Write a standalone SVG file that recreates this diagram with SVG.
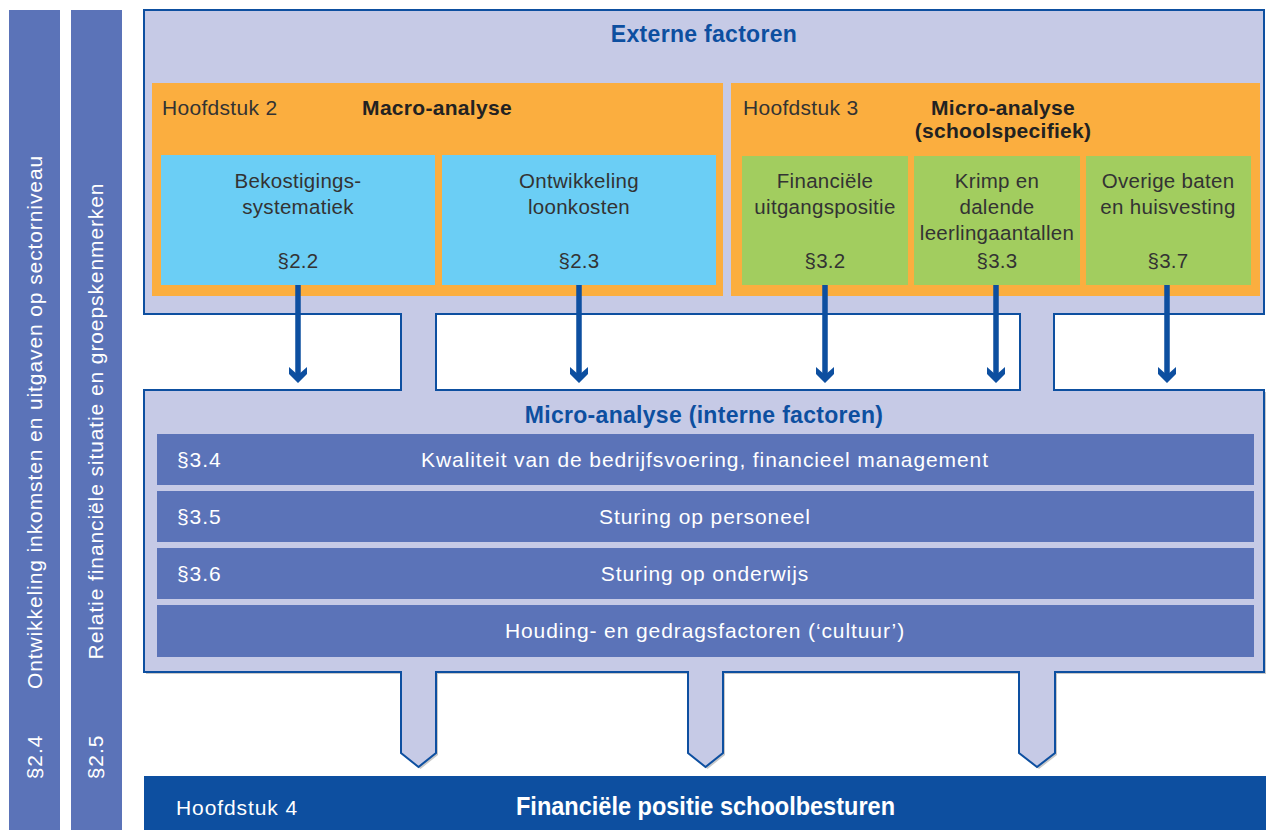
<svg xmlns="http://www.w3.org/2000/svg" width="1266" height="830" viewBox="0 0 1266 830">
<style>
text{font-family:"Liberation Sans",Arial,sans-serif}
.side{fill:#5b73b8}
.t{font-size:20.5px;letter-spacing:0.3px;fill:#333}
.h{font-size:21px;letter-spacing:0.3px;fill:#333}
.tb{font-size:21px;letter-spacing:0.3px;font-weight:bold;fill:#222}
.ti{font-size:23px;letter-spacing:0.3px;font-weight:bold;fill:#0d4fa0}
.w{font-size:21px;letter-spacing:0.9px;fill:#fff}
.c{text-anchor:middle}
.bar{fill:#5b73b8}
.org{fill:#fbae3f}
.lb{fill:#6bcef5}
.gr{fill:#a2cd5f}
.arr{stroke:#0d4fa0;stroke-width:5.5;fill:none}
.head{fill:#0d4fa0}
</style>
<rect width="1266" height="830" fill="#fff"/>

<g id="side-24">
<rect class="side" x="9" y="10" width="51" height="820"/>
<text class="w c" transform="translate(42,422) rotate(-90)">Ontwikkeling inkomsten en uitgaven op sectorniveau</text>
<text class="w c" transform="translate(42,757) rotate(-90)">§2.4</text>
</g>
<g id="side-25">
<rect class="side" x="71" y="10" width="51" height="820"/>
<text class="w c" transform="translate(103,421) rotate(-90)">Relatie financiële situatie en groepskenmerken</text>
<text class="w c" transform="translate(103,757) rotate(-90)">§2.5</text>
</g>

<g id="frame">
<path d="M146,392 H1266 V674 H1057 V755 L1039,769 L1021,755 V674 H725 V755 L707.5,769 L690,755 V674 H438 V755 L420.5,769 L403,755 V674 H146 Z" fill="#c8c8c8"/>
<path fill-rule="evenodd" fill="#c6cae6" stroke="#0d4fa0" stroke-width="2" d="M144,10 H1264 V314 H1054 V390 H1264 V672 H1055 V753 L1037,767 L1019,753 V672 H723 V753 L705.5,767 L688,753 V672 H436 V753 L418.5,767 L401,753 V672 H144 V390 H401 V314 H144 Z M436,314 H1020 V390 H436 Z"/>
<text class="ti c" x="704" y="42">Externe factoren</text>
<text class="ti c" x="704" y="423">Micro-analyse (interne factoren)</text>
</g>

<g id="macro">
<rect class="org" x="152" y="83" width="571" height="213"/>
<text class="h" x="162" y="115">Hoofdstuk 2</text>
<text class="tb c" x="437" y="115">Macro-analyse</text>
</g>
<g id="bekostiging">
<rect class="lb" x="161" y="155" width="274" height="130"/>
<text class="t c" x="298" y="188">Bekostigings-</text>
<text class="t c" x="298" y="214">systematiek</text>
<text class="t c" x="298" y="268">§2.2</text>
</g>
<g id="loonkosten">
<rect class="lb" x="442" y="155" width="274" height="130"/>
<text class="t c" x="579" y="188">Ontwikkeling</text>
<text class="t c" x="579" y="214">loonkosten</text>
<text class="t c" x="579" y="268">§2.3</text>
</g>

<g id="micro-school">
<rect class="org" x="731" y="83" width="529" height="213"/>
<text class="h" x="743" y="115">Hoofdstuk 3</text>
<text class="tb c" x="1003" y="115">Micro-analyse</text>
<text class="tb c" x="1003" y="138">(schoolspecifiek)</text>
</g>
<g id="uitgangspositie">
<rect class="gr" x="742" y="156" width="166" height="129"/>
<text class="t c" x="825" y="188">Financiële</text>
<text class="t c" x="825" y="214">uitgangspositie</text>
<text class="t c" x="825" y="268">§3.2</text>
</g>
<g id="krimp">
<rect class="gr" x="914" y="156" width="166" height="129"/>
<text class="t c" x="997" y="188">Krimp en</text>
<text class="t c" x="997" y="214">dalende</text>
<text class="t c" x="997" y="240">leerlingaantallen</text>
<text class="t c" x="997" y="268">§3.3</text>
</g>
<g id="overige">
<rect class="gr" x="1086" y="156" width="165" height="129"/>
<text class="t c" x="1168" y="188">Overige baten</text>
<text class="t c" x="1168" y="214">en huisvesting</text>
<text class="t c" x="1168" y="268">§3.7</text>
</g>

<g id="bar-34">
<rect class="bar" x="157" y="434" width="1097" height="51"/>
<text class="w" x="177" y="467">§3.4</text>
<text class="w c" x="705" y="467">Kwaliteit van de bedrijfsvoering, financieel management</text>
</g>
<g id="bar-35">
<rect class="bar" x="157" y="491" width="1097" height="51"/>
<text class="w" x="177" y="524">§3.5</text>
<text class="w c" x="705" y="524">Sturing op personeel</text>
</g>
<g id="bar-36">
<rect class="bar" x="157" y="548" width="1097" height="51"/>
<text class="w" x="177" y="581">§3.6</text>
<text class="w c" x="705" y="581">Sturing op onderwijs</text>
</g>
<g id="bar-cultuur">
<rect class="bar" x="157" y="605" width="1097" height="52"/>
<text class="w c" x="705" y="638">Houding- en gedragsfactoren (‘cultuur’)</text>
</g>

<g id="financiele-positie">
<rect x="144" y="776" width="1122" height="54" fill="#0d4fa0"/>
<text class="w" x="176" y="815">Hoofdstuk 4</text>
<text x="516" y="815" textLength="379" lengthAdjust="spacingAndGlyphs" style="font-size:25px;font-weight:bold;fill:#fff">Financiële positie schoolbesturen</text>
</g>

<g id="connectors">
<path class="arr" d="M298,285 V377 M579,285 V377 M825,285 V377 M996,285 V377 M1167,285 V377"/>
<path class="head" d="M289,367 L298,375 L307,367 L307,374 L298,383 L289,374 Z"/>
<path class="head" d="M570,367 L579,375 L588,367 L588,374 L579,383 L570,374 Z"/>
<path class="head" d="M816,367 L825,375 L834,367 L834,374 L825,383 L816,374 Z"/>
<path class="head" d="M987,367 L996,375 L1005,367 L1005,374 L996,383 L987,374 Z"/>
<path class="head" d="M1158,367 L1167,375 L1176,367 L1176,374 L1167,383 L1158,374 Z"/>
</g>
</svg>
